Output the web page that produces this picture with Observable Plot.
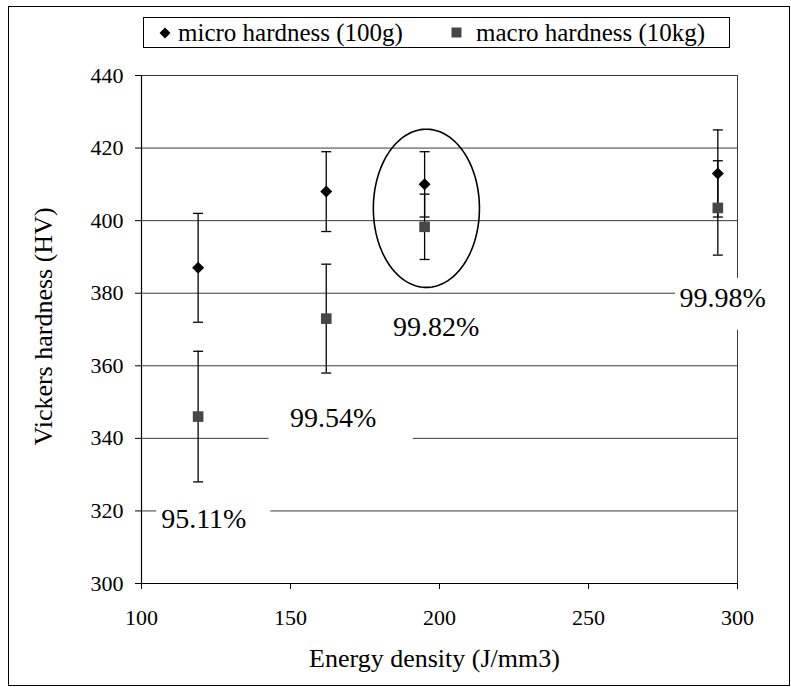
<!DOCTYPE html>
<html>
<head>
<meta charset="utf-8">
<script src="https://cdn.jsdelivr.net/npm/d3@7"></script>
<script src="https://cdn.jsdelivr.net/npm/@observablehq/plot@0.6"></script>
<style>
  html, body { margin: 0; padding: 0; background: #fff; }
  #wrap { position: relative; width: 791px; height: 687px; overflow: hidden; font-family: "Liberation Serif", "Times New Roman", serif; }
  #frame { position: absolute; left: 8px; top: 6px; width: 782px; height: 680px; border: 1px solid #000; box-sizing: border-box; pointer-events: none; }
  #legend { position: absolute; left: 143px; top: 17px; width: 587px; height: 31px; border: 1px solid #000; box-sizing: border-box; background: #fff; font-size: 25px; color: #000; }
  #legend .item { position: absolute; top: 0; height: 29px; line-height: 29px; white-space: nowrap; }
  #legend svg { position: absolute; top: 9px; }
  #chart { position: absolute; left: 0; top: 0; }
  #chart svg, #chart svg text { font-family: "Liberation Serif", "Times New Roman", serif !important; }
</style>
</head>
<body>
<div id="wrap">
  <div id="chart"></div>
  <div id="frame"></div>
  <div id="legend"></div>
</div>
<script>
// ---- data ----
const energy = [119, 162, 195, 293.4];            // J/mm3
const microHV = [387, 408, 410, 413];              // micro hardness (100g)
const microErr = [15, 11, 9, 12];
const macroHV = [346, 373, 398.3, 403.5];          // macro hardness (10kg)
const macroErr = [18, 15, 9, 13];
const densityLabels = ["95.11%", "99.54%", "99.82%", "99.98%"];
const labelX = [120.9, 164.3, 198.9, 295.0];
const labelY = [317.9, 345.5, 370.6, 378.6];
// white label boxes (data units)
const boxX1 = [105.1, 142.8, 186, 279.2];
const boxX2 = [143.4, 191.2, 212, 314.4];
const boxY1 = [313.0, 337.8, 366, 369.8];
const boxY2 = [322.9, 351.0, 375, 384.1];
const yTicks = [300, 320, 340, 360, 380, 400, 420, 440];
const xTicks = [100, 150, 200, 250, 300];
const seriesNames = ["micro hardness (100g)", "macro hardness (10kg)"];
// highlight ellipse (data units)
const ellipseCenter = [195.6, 403.4];
const ellipseRadius = [17.8, 21.8];

// ---- derived tables ----
const micro = energy.map((e, i) => ({x: e, y: microHV[i], lo: microHV[i] - microErr[i], hi: microHV[i] + microErr[i]}));
const macro = energy.map((e, i) => ({x: e, y: macroHV[i], lo: macroHV[i] - macroErr[i], hi: macroHV[i] + macroErr[i]}));
const bars = micro.concat(macro);
const caps = bars.flatMap(d => [{x: d.x, y: d.lo}, {x: d.x, y: d.hi}]);
const labels = densityLabels.map((t, i) => ({t, x: labelX[i], y: labelY[i]}));
const boxes = densityLabels.map((t, i) => ({x1: boxX1[i], x2: boxX2[i], y1: boxY1[i], y2: boxY2[i]}));
const ellipse = d3.range(0, 361, 2).map(a => ({
  x: ellipseCenter[0] + ellipseRadius[0] * Math.cos(a * Math.PI / 180),
  y: ellipseCenter[1] + ellipseRadius[1] * Math.sin(a * Math.PI / 180)
}));

const capSymbol = {draw(ctx) { ctx.moveTo(-5, 0); ctx.lineTo(5, 0); }};
const font = '"Liberation Serif", "Times New Roman", serif';

const chart = Plot.plot({
  width: 791,
  height: 687,
  marginLeft: 141,
  marginRight: 54,
  marginTop: 75,
  marginBottom: 104,
  style: {fontSize: "22px", color: "#000", background: "transparent"},
  x: {domain: [100, 300]},
  y: {domain: [300, 440]},
  marks: [
    Plot.ruleY(yTicks.filter(v => v > 300), {stroke: "#3a3a3a", strokeWidth: 1}),
    Plot.ruleX([300], {stroke: "#3a3a3a", strokeWidth: 1}),
    Plot.rect(boxes, {x1: "x1", x2: "x2", y1: "y1", y2: "y2", fill: "#fff"}),
    Plot.ruleY([300], {stroke: "#000", strokeWidth: 1.2}),
    Plot.ruleX([100], {stroke: "#000", strokeWidth: 1.2}),
    Plot.axisY({ticks: yTicks, tickSize: 6, tickPadding: 12, label: null, fontSize: 22, fontFamily: font, tickFormat: d => String(d)}),
    Plot.axisX({ticks: xTicks, tickSize: 6, tickPadding: 20, label: null, fontSize: 22, fontFamily: font, tickFormat: d => String(d)}),
    Plot.ruleX(bars, {x: "x", y1: "lo", y2: "hi", stroke: "#000", strokeWidth: 1.3}),
    Plot.dot(caps, {x: "x", y: "y", symbol: capSymbol, r: 5, stroke: "#000", strokeWidth: 1.3, fill: "none"}),
    Plot.dot(macro, {x: "x", y: "y", symbol: "square", r: 6, fill: "#474747", stroke: "none"}),
    Plot.dot(micro, {x: "x", y: "y", symbol: "diamond2", r: 5.4, fill: "#000", stroke: "none"}),
    Plot.line(ellipse, {x: "x", y: "y", stroke: "#000", strokeWidth: 1.6}),
    Plot.text(labels, {x: "x", y: "y", text: "t", fontSize: 28, fontFamily: font, fill: "#000", textAnchor: "middle", lineAnchor: "middle"}),
    Plot.text(["Energy density (J/mm3)"], {frameAnchor: "bottom", dx: -5, dy: 75, fontSize: 26, fontFamily: font, fill: "#000", textAnchor: "middle", lineAnchor: "middle"}),
    Plot.text(["Vickers hardness (HV)"], {frameAnchor: "left", dx: -98, dy: -3, rotate: -90, fontSize: 26, fontFamily: font, fill: "#000", textAnchor: "middle", lineAnchor: "middle"})
  ]
});
document.getElementById("chart").appendChild(chart);

// legend
const legend = document.getElementById("legend");
const items = [
  {name: seriesNames[0], symLeft: 15, textLeft: 34, svg: '<svg width="12" height="12" viewBox="-6 -6 12 12"><path d="M0,-5.5L5.5,0L0,5.5L-5.5,0Z" fill="#000"/></svg>'},
  {name: seriesNames[1], symLeft: 307, textLeft: 332, svg: '<svg width="11" height="11" viewBox="-5.5 -5.5 11 11"><rect x="-5" y="-5" width="10" height="10" fill="#474747"/></svg>'}
];
items.forEach(it => {
  const sym = document.createElement("div");
  sym.className = "item";
  sym.style.left = it.symLeft + "px";
  sym.innerHTML = it.svg;
  legend.appendChild(sym);
  const t = document.createElement("div");
  t.className = "item";
  t.style.left = it.textLeft + "px";
  t.textContent = it.name;
  legend.appendChild(t);
});
</script>
</body>
</html>
